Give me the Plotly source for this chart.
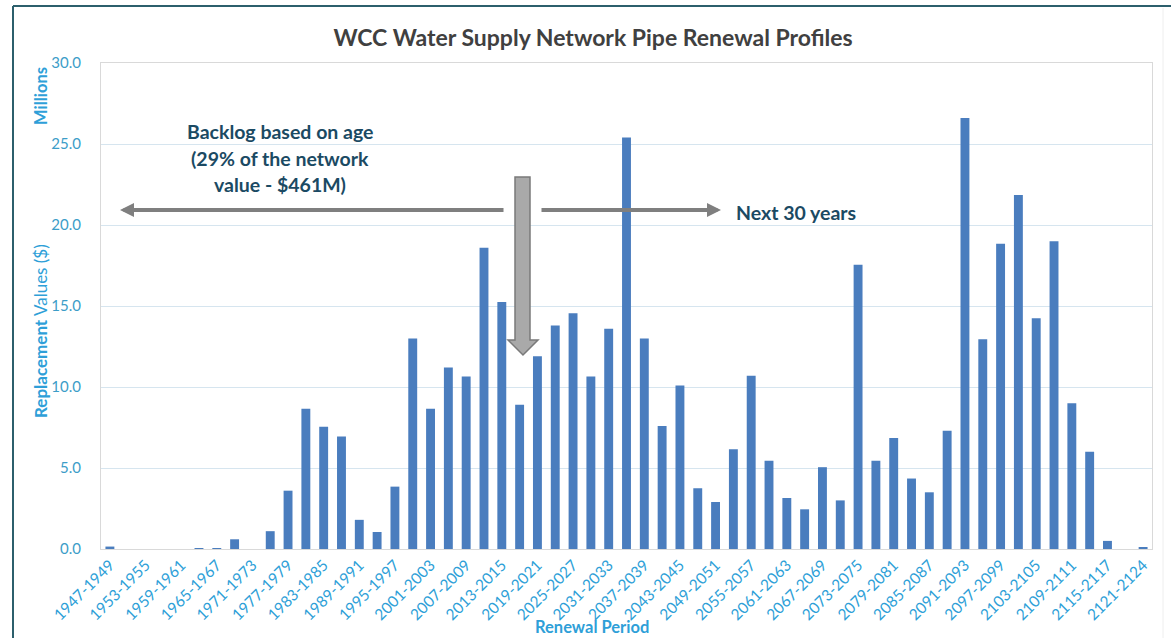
import plotly.graph_objects as go

periods = [
    "1947-1949", "1950-1952", "1953-1955", "1956-1958", "1959-1961", "1962-1964",
    "1965-1967", "1968-1970", "1971-1973", "1974-1976", "1977-1979", "1980-1982",
    "1983-1985", "1986-1988", "1989-1991", "1992-1994", "1995-1997", "1998-2000",
    "2001-2003", "2004-2006", "2007-2009", "2010-2012", "2013-2015", "2016-2018",
    "2019-2021", "2022-2024", "2025-2027", "2028-2030", "2031-2033", "2034-2036",
    "2037-2039", "2040-2042", "2043-2045", "2046-2048", "2049-2051", "2052-2054",
    "2055-2057", "2058-2060", "2061-2063", "2064-2066", "2067-2069", "2070-2072",
    "2073-2075", "2076-2078", "2079-2081", "2082-2084", "2085-2087", "2088-2090",
    "2091-2093", "2094-2096", "2097-2099", "2100-2102", "2103-2105", "2106-2108",
    "2109-2111", "2112-2114", "2115-2117", "2118-2120", "2121-2124",
]

# Replacement values, $ millions
replacement_values = [
    0.15, 0.0, 0.0, 0.0, 0.0, 0.05,
    0.05, 0.6, 0.0, 1.1, 3.6, 8.65,
    7.55, 6.95, 1.8, 1.05, 3.85, 13.0,
    8.65, 11.2, 10.65, 18.6, 15.25, 8.9,
    11.9, 13.8, 14.55, 10.65, 13.6, 25.4,
    13.0, 7.6, 10.1, 3.75, 2.9, 6.15,
    10.7, 5.45, 3.15, 2.45, 5.05, 3.0,
    17.55, 5.45, 6.85, 4.35, 3.5, 7.3,
    26.6, 12.95, 18.85, 21.85, 14.25, 19.0,
    9.0, 6.0, 0.5, 0.0, 0.08,
]

tick_labels = periods[::2]
y_ticks = [0, 5, 10, 15, 20, 25, 30]

W, H = 1171, 638
L, R, T, B = 101, 19, 63, 89
PW, PH = W - L - R, H - T - B


def px(xp):
    return (xp - L) / PW


def py(yp):
    return (H - B - yp) / PH


BAR = "#4A7DBE"
TICK = "#2E9FD8"
YTICK = "#3C9DC8"
NOTE = "#1B4A63"
FONT = "Lato, 'Open Sans', sans-serif"

fig = go.Figure()
fig.add_trace(go.Bar(
    x=periods, y=replacement_values,
    marker=dict(color=BAR, line=dict(width=0)),
    hovertemplate="%{x}: %{y:.2f}M<extra></extra>",
))

fig.update_layout(
    width=W, height=H,
    margin=dict(l=L, r=R, t=T, b=B),
    paper_bgcolor="white", plot_bgcolor="white",
    showlegend=False,
    bargap=0.5,
    font=dict(family=FONT),
    title=dict(
        text="<b>WCC Water Supply Network Pipe Renewal Profiles</b>",
        x=px(593), xanchor="center", xref="paper",
        y=1 - 38 / H, yanchor="middle", yref="container",
        font=dict(size=23, color="#404040", family=FONT),
    ),
    xaxis=dict(
        type="category",
        categoryorder="array", categoryarray=periods,
        tickmode="array", tickvals=tick_labels, ticktext=tick_labels,
        tickangle=-45,
        tickfont=dict(size=15.5, color=TICK, family=FONT),
        showgrid=False,
        showline=True, linecolor="#D9D9D9", linewidth=1, mirror=True,
        ticks="", zeroline=False,
        range=[-0.5, len(periods) - 0.5],
    ),
    yaxis=dict(
        range=[0, 30], tickvals=y_ticks, tickformat=".1f",
        tickfont=dict(size=15, color=YTICK, family=FONT),
        showgrid=True, gridcolor="#D6E5EF", gridwidth=1,
        showline=True, linecolor="#D9D9D9", linewidth=1, mirror=True,
        ticks="", zeroline=False,
        ticklabelstandoff=16,
    ),
)


def arrow(head, tail):
    return dict(x=px(head[0]), y=py(head[1]), xref="paper", yref="paper",
                ax=tail[0] - head[0], ay=tail[1] - head[1], axref="pixel", ayref="pixel",
                text="", showarrow=True, arrowhead=2, arrowsize=0.7, arrowwidth=4,
                arrowcolor="#7F7F7F")


def label(text, x, y, size, color, xanchor="center", angle=0):
    return dict(text=text, x=px(x), y=py(y), xref="paper", yref="paper",
                xanchor=xanchor, yanchor="middle", textangle=angle, showarrow=False,
                font=dict(size=size, color=color, family=FONT))


annotations = [
    label("<b>Millions</b>", 41, 96, 16.5, TICK, angle=-90),
    label("<b>Replacement</b> Values ($)", 41, 331, 17, TICK, angle=-90),
    label("<b>Renewal Period</b>", 592, 627, 16.5, TICK),
    label("<b>Backlog based on age</b>", 280, 131, 19.5, NOTE),
    label("<b>(29% of the network</b>", 280, 158, 19.5, NOTE),
    label("<b>value - $461M)</b>", 280, 184, 19.5, NOTE),
    label("<b>Next 30 years</b>", 734, 212, 19.5, NOTE, xanchor="left"),
    arrow((120, 210), (505, 210)),
    arrow((721, 210), (540, 210)),
]
fig.update_layout(annotations=annotations)

# thick vertical block arrow
pts = [(515, 177), (530, 177), (530, 340), (538, 340), (523, 355), (508, 340), (515, 340)]
path = "M " + " L ".join(f"{px(a):.5f},{py(b):.5f}" for a, b in pts) + " Z"
shapes = [
    dict(type="path", path=path, xref="paper", yref="paper",
         fillcolor="#A9A9A9", line=dict(color="#7A7A7A", width=1.5), layer="above"),
    # outer frame
    dict(type="line", xref="paper", yref="paper", x0=px(13), x1=px(1171), y0=py(6), y1=py(6),
         line=dict(color="#2C5F6C", width=2)),
    dict(type="line", xref="paper", yref="paper", x0=px(13), x1=px(13), y0=py(6), y1=py(638),
         line=dict(color="#2C5F6C", width=2)),
    dict(type="line", xref="paper", yref="paper", x0=px(1163), x1=px(1163), y0=py(8), y1=py(638),
         line=dict(color="#EEEEEE", width=1)),
]
fig.update_layout(shapes=shapes)

fig.write_html(
    "out.html",
    config={"displayModeBar": False},
    post_script="document.body.style.margin='0';document.body.style.overflow='hidden';",
)
